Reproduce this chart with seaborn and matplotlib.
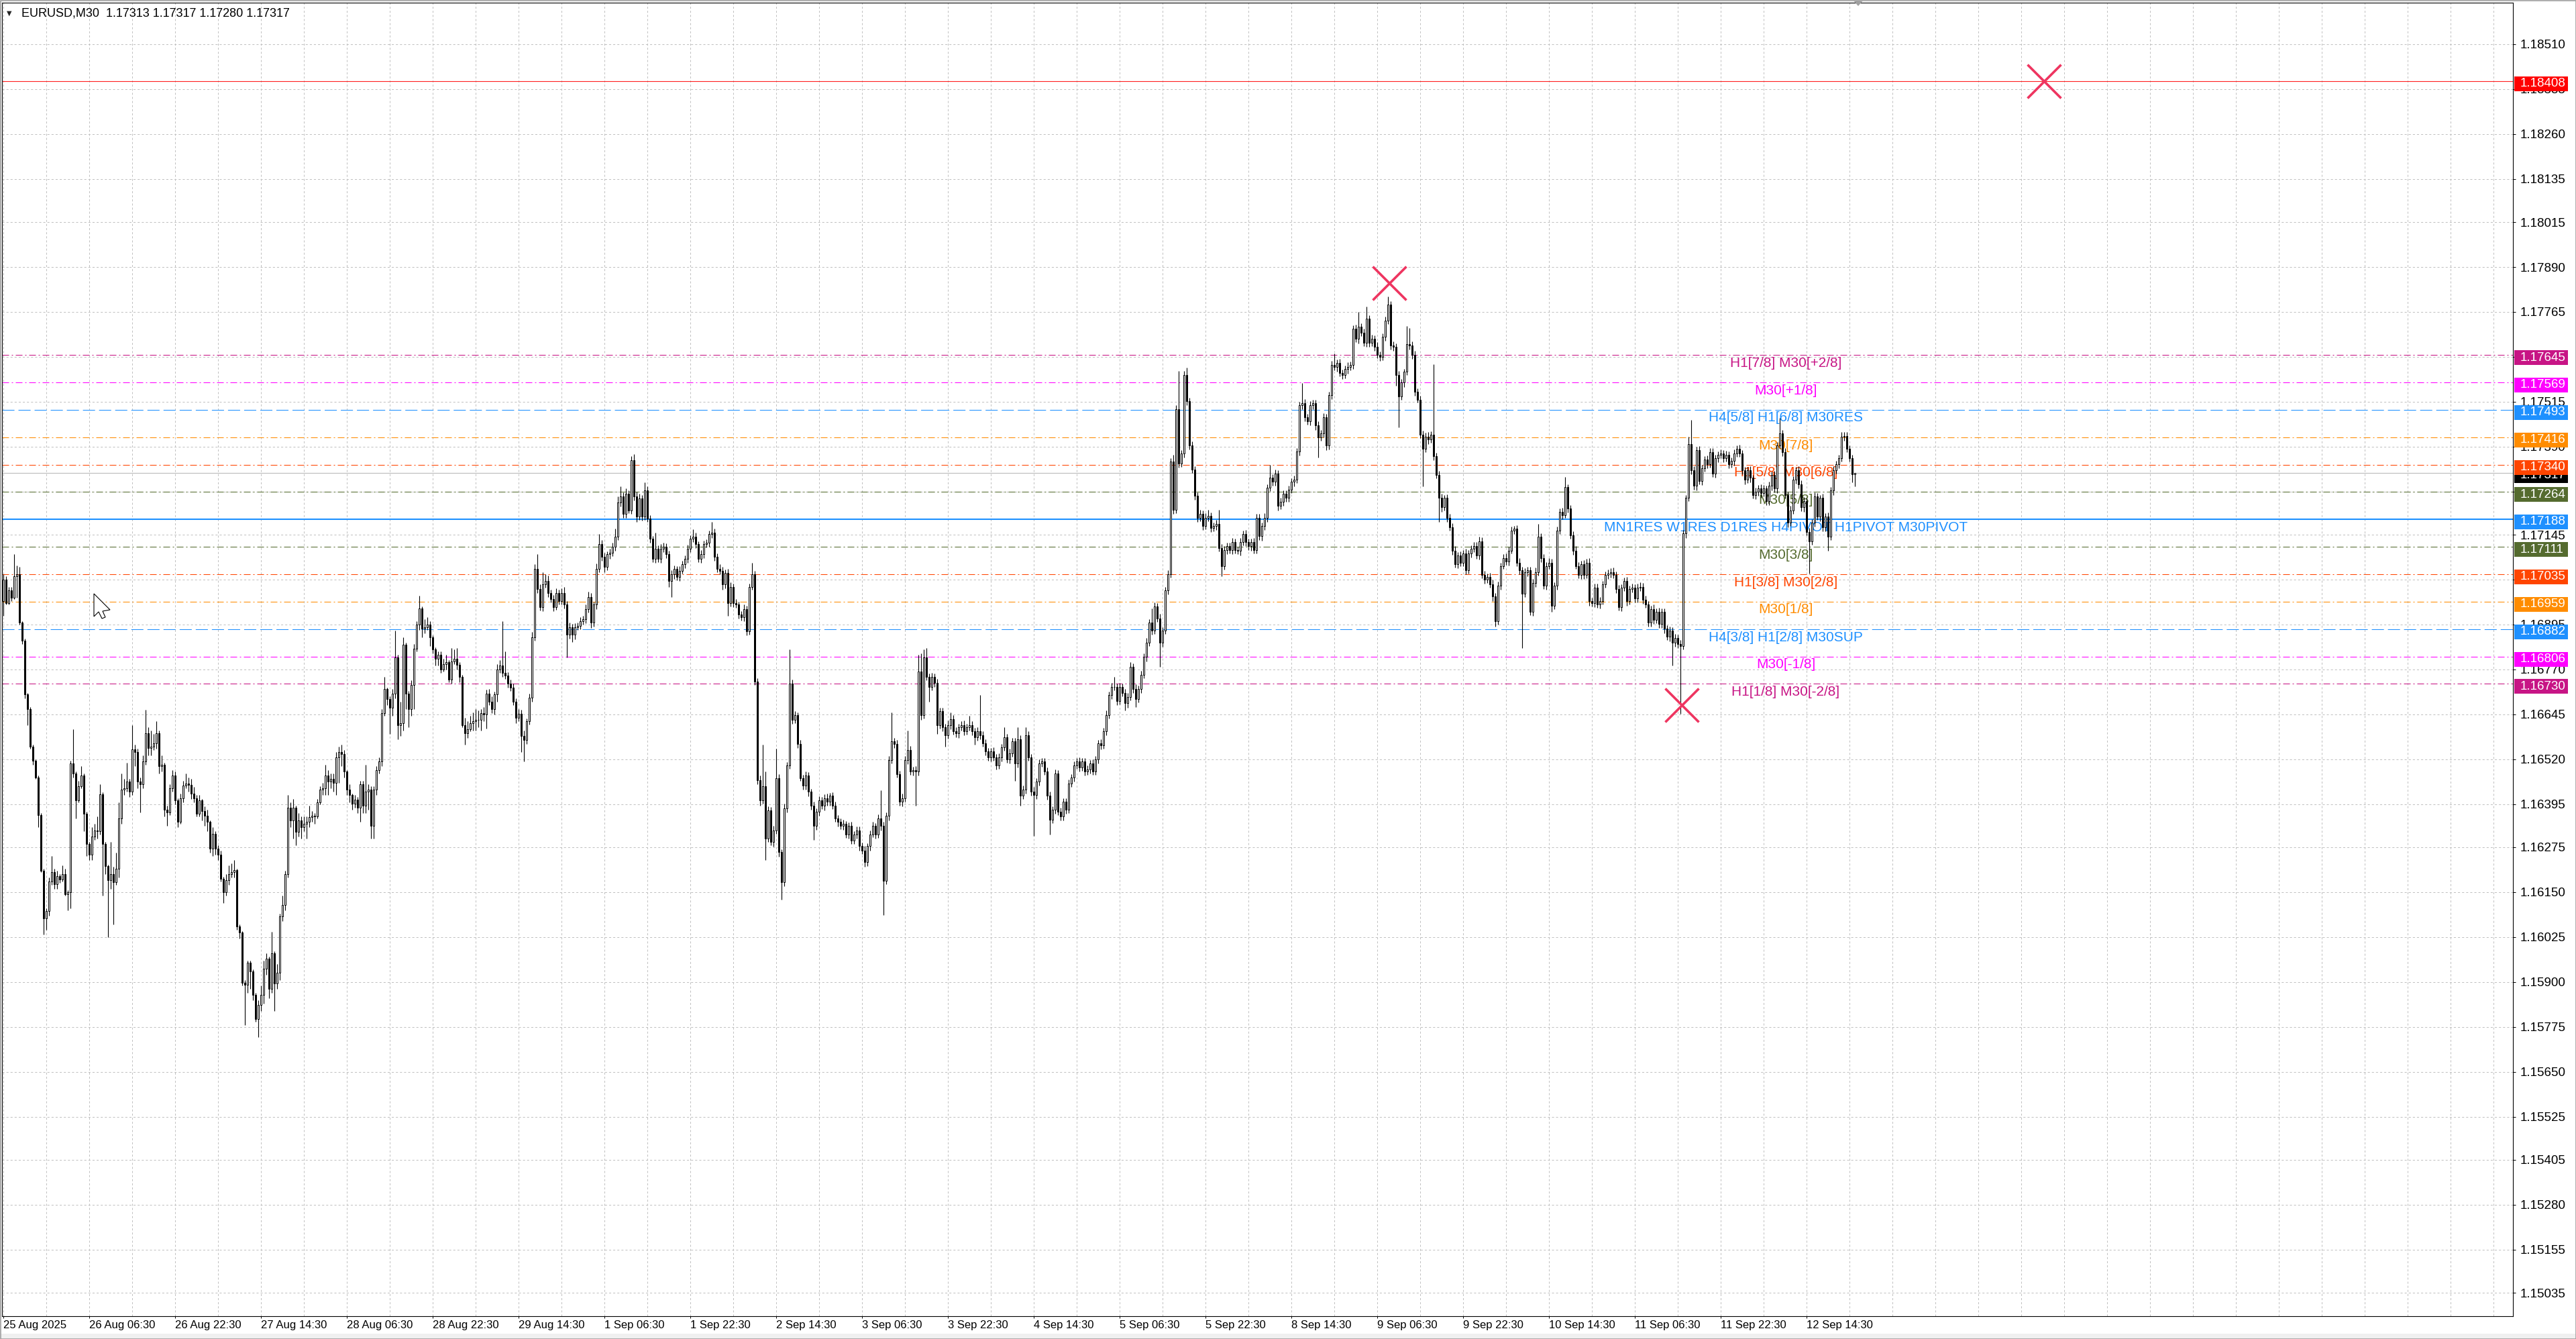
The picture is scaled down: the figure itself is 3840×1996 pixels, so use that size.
import numpy as np
import pandas as pd
import matplotlib
matplotlib.use("Agg")
import matplotlib.pyplot as plt
import seaborn as sns
from matplotlib.patches import Rectangle, Polygon

# ---------------- data (prices in points above 1.10000) ----------------
BASE = 1.10000
first_open = 6960
close_pts = [
    7020,6955,6990,6970,7030,7035,6900,6850,6700,6660,
    6555,6515,6470,6365,6210,6077,6098,6180,6205,6172,
    6195,6185,6200,6145,6150,6508,6480,6405,6445,6475,
    6368,6284,6255,6305,6322,6320,6423,6284,6222,6183,
    6200,6178,6215,6356,6435,6440,6458,6430,6547,6540,
    6458,6450,6513,6592,6552,6555,6565,6592,6500,6505,
    6380,6372,6440,6475,6406,6345,6412,6446,6452,6448,
    6424,6412,6368,6405,6375,6362,6345,6272,6312,6272,
    6255,6188,6150,6183,6200,6205,6211,6054,6037,5897,
    5892,5953,5930,5864,5797,5836,5864,5937,5965,5880,
    5980,5895,5925,6082,6115,6200,6385,6350,6385,6318,
    6350,6330,6340,6345,6358,6362,6360,6400,6435,6440,
    6475,6458,6465,6455,6525,6540,6535,6485,6435,6420,
    6396,6408,6385,6450,6390,6430,6435,6334,6435,6490,
    6513,6648,6715,6687,6664,6703,6804,6614,6620,6838,
    6703,6659,6726,6827,6894,6939,6883,6888,6895,6860,
    6826,6799,6810,6770,6785,6790,6742,6793,6800,6782,
    6750,6614,6592,6603,6620,6625,6630,6630,6648,6645,
    6703,6680,6660,6700,6770,6781,6760,6753,6731,6720,
    6681,6636,6647,6585,6574,6625,6692,6860,7050,6994,
    6944,7006,7017,6983,6966,6944,6983,6961,6983,6950,
    6866,6888,6866,6888,6892,6905,6910,6938,6972,6900,
    6950,7050,7118,7084,7056,7090,7095,7112,7140,7235,
    7252,7202,7258,7213,7353,7252,7196,7246,7196,7269,
    7190,7134,7078,7106,7078,7106,7112,7090,7017,7034,
    7050,7028,7045,7062,7078,7106,7134,7140,7118,7078,
    7090,7118,7123,7146,7151,7084,7050,7045,7006,7039,
    6955,7000,6955,6950,6922,6916,6938,6877,7000,7034,
    6737,6462,6406,6445,6300,6378,6289,6322,6468,6261,
    6177,6384,6502,6731,6630,6642,6563,6468,6446,6474,
    6429,6390,6334,6373,6406,6390,6412,6401,6418,6390,
    6356,6345,6334,6340,6311,6334,6294,6311,6322,6278,
    6266,6233,6278,6311,6334,6311,6356,6334,6182,6362,
    6518,6569,6563,6479,6401,6412,6518,6546,6485,6490,
    6485,6765,6642,6804,6749,6721,6749,6733,6615,6654,
    6609,6587,6615,6632,6598,6592,6609,6615,6598,6609,
    6615,6598,6581,6598,6587,6564,6542,6525,6542,6525,
    6503,6525,6553,6581,6520,6537,6570,6508,6576,6419,
    6436,6587,6525,6430,6420,6458,6508,6514,6486,6419,
    6352,6380,6480,6374,6360,6402,6380,6452,6469,6503,
    6514,6497,6514,6486,6492,6508,6486,6520,6564,6559,
    6598,6643,6699,6721,6721,6682,6721,6705,6676,6693,
    6777,6716,6688,6716,6755,6805,6845,6900,6878,6945,
    6912,6845,6878,6990,7035,7348,7214,7494,7343,7371,
    7589,7516,7393,7326,7253,7192,7203,7169,7192,7197,
    7164,7170,7175,7108,7057,7102,7113,7102,7124,7102,
    7100,7124,7147,7124,7113,7124,7102,7192,7141,7169,
    7192,7276,7304,7292,7315,7225,7236,7259,7248,7270,
    7292,7298,7376,7505,7511,7472,7460,7505,7511,7449,
    7416,7427,7472,7393,7533,7617,7611,7623,7595,7590,
    7606,7612,7617,7718,7690,7724,7707,7679,7746,7679,
    7690,7668,7645,7640,7696,7740,7785,7671,7667,7590,
    7530,7568,7598,7675,7672,7645,7543,7521,7423,7384,
    7418,7410,7423,7363,7311,7247,7221,7247,7191,7166,
    7101,7063,7088,7067,7093,7046,7093,7106,7114,7088,
    7127,7033,7020,7028,7007,6973,6904,7003,7058,7080,
    7071,7101,7157,7161,7067,7046,6981,7041,7046,6930,
    7011,7041,7140,7080,7003,7058,7067,6947,7003,7157,
    7208,7200,7277,7217,7144,7101,7058,7033,7063,7033,
    7067,6960,6955,6998,6951,6960,7007,7033,7037,7041,
    7033,6994,6943,6998,7016,6960,6994,6998,6968,6998,
    7000,6964,6951,6900,6938,6908,6930,6896,6930,6883,
    6861,6878,6844,6857,6840,6835,7148,7247,7397,7324,
    7281,7380,7294,7330,7354,7341,7375,7315,7358,7367,
    7371,7358,7367,7341,7350,7371,7384,7371,7324,7298,
    7324,7303,7255,7264,7273,7260,7273,7238,7281,7311,
    7273,7393,7427,7375,7255,7178,7213,7298,7324,7286,
    7221,7238,7153,7127,7178,7251,7195,7247,7165,7195,
    7140,7268,7324,7341,7358,7418,7420,7384,7358,7313,7317,
]
# wick length above the body / below the body, in points
wick_up = [
    15,10,10,10,60,25,20,5,5,5,
    5,5,5,5,5,5,7,10,45,10,
    15,5,25,15,5,7,95,5,15,25,
    5,5,5,25,18,38,27,5,6,5,
    90,20,45,44,45,25,52,7,67,13,
    10,12,17,66,18,45,25,33,8,25,
    5,10,10,15,10,5,13,14,28,18,
    17,18,8,15,5,13,17,5,18,8,
    8,10,5,17,25,25,29,5,6,5,
    8,7,7,5,6,14,26,23,15,5,
    60,5,25,8,25,10,35,15,25,5,
    20,10,20,15,32,13,8,10,10,15,
    30,15,15,15,15,15,20,10,5,15,
    5,12,7,10,10,75,15,10,10,10,
    12,12,35,5,8,12,74,6,60,22,
    7,7,14,13,11,36,6,22,20,10,
    5,5,10,10,15,20,5,37,25,30,
    8,5,22,22,20,25,30,25,12,17,
    11,12,15,8,15,14,124,60,9,11,
    10,8,12,10,14,9,11,15,12,40,
    12,34,17,15,9,11,12,8,12,17,
    10,12,8,10,9,11,10,12,15,10,
    8,15,28,12,10,9,11,10,22,17,
    28,10,15,10,11,17,12,12,9,21,
    11,10,8,44,10,12,10,9,10,12,
    10,8,12,10,9,11,10,20,10,8,
    12,10,9,11,29,10,8,12,10,9,
    10,12,8,10,9,11,12,10,9,33,
    10,8,12,115,40,10,9,12,82,10,
    8,12,10,95,10,12,9,10,8,11,
    10,9,12,10,11,8,10,12,9,10,
    12,9,10,11,8,10,12,9,10,11,
    10,12,9,10,11,8,10,78,12,10,
    11,81,10,11,9,12,10,54,10,9,
    10,45,50,22,25,10,12,9,11,10,
    10,9,12,18,10,11,9,10,12,10,
    25,10,9,12,101,10,11,9,10,12,
    10,11,9,29,10,12,10,9,34,10,
    11,23,10,9,12,10,11,10,9,12,
    10,9,12,10,11,10,9,12,10,11,
    10,12,9,10,11,10,12,9,10,11,
    10,12,9,11,29,10,12,9,10,11,
    13,10,12,9,11,10,12,10,40,11,
    10,12,9,10,11,10,20,12,106,10,
    11,21,10,12,9,10,11,10,12,18,
    10,9,12,40,10,11,9,10,12,10,
    10,12,9,11,10,9,12,10,11,10,
    12,10,36,9,11,10,12,10,9,11,
    10,12,9,10,56,11,10,12,9,10,
    12,10,11,9,10,12,33,10,11,9,
    10,12,9,10,11,41,10,12,34,10,
    11,10,12,9,10,11,23,10,12,10,
    10,11,9,50,45,10,12,9,10,11,
    10,12,9,197,10,11,12,9,10,11,
    10,12,9,11,10,12,9,10,11,10,
    12,10,11,9,10,12,10,11,9,10,
    12,10,11,9,10,12,10,11,9,10,
    10,12,35,9,11,10,12,10,9,11,
    10,12,28,9,11,10,12,10,9,11,
    10,12,9,11,10,12,10,9,11,10,
    12,10,11,9,10,12,10,11,9,10,
    12,10,11,9,10,12,10,11,9,10,
    10,12,9,11,10,12,10,9,21,68,
    12,10,11,9,10,12,10,11,9,10,
    12,10,11,9,10,12,10,11,9,10,
    10,12,9,11,10,12,10,9,11,10,
    12,10,43,9,11,10,12,10,9,11,
    10,12,9,11,10,12,10,9,11,10,
    12,10,11,9,10,12,10,11,9,10,0,
]
wick_dn = [
    40,5,5,10,5,60,5,10,10,45,
    5,10,5,35,5,45,32,13,10,12,
    12,10,5,5,45,45,10,50,5,5,
    48,34,15,15,10,20,10,144,22,158,
    23,118,8,25,16,15,10,15,10,40,
    18,78,10,8,22,22,10,15,20,15,
    20,37,7,10,11,15,5,12,6,18,
    14,12,8,8,25,27,25,12,22,17,
    15,8,30,10,13,10,15,9,17,7,
    112,22,50,14,7,51,16,24,17,25,
    10,75,15,20,12,15,10,20,50,38,
    13,30,10,40,15,13,20,5,5,15,
    20,38,18,25,35,70,35,15,15,20,
    16,11,15,40,20,20,50,34,34,15,
    10,13,8,17,74,24,13,39,29,20,
    43,49,19,66,7,14,23,13,8,25,
    11,19,19,10,5,15,7,12,8,12,
    15,5,32,12,5,20,25,20,30,20,
    40,10,12,15,20,10,11,9,12,10,
    11,16,10,45,61,12,9,11,10,12,
    10,12,9,11,10,12,9,10,11,10,
    62,10,20,12,9,11,10,12,10,15,
    10,12,9,11,15,10,12,9,11,10,
    12,10,11,9,10,12,15,10,11,10,
    10,12,9,11,10,12,9,10,17,45,
    12,10,11,9,10,12,9,10,11,10,
    12,10,9,11,10,12,9,11,15,10,
    35,10,12,9,11,10,12,12,10,9,
    10,12,16,10,60,11,9,12,10,12,
    47,10,12,9,11,10,12,9,11,10,
    12,10,39,10,11,9,12,10,11,9,
    10,12,9,11,10,12,9,10,11,12,
    10,13,10,12,9,11,10,12,95,10,
    12,10,11,9,10,12,10,11,9,10,
    95,10,12,9,10,41,10,12,25,10,
    12,32,10,11,9,10,12,10,11,9,
    10,12,21,10,11,9,12,10,11,10,
    12,10,11,9,10,12,10,48,11,29,
    10,12,9,11,113,10,12,9,10,11,
    42,10,12,9,11,10,12,9,10,11,
    10,12,9,11,10,12,9,10,11,12,
    10,11,9,12,10,11,9,10,21,12,
    10,12,23,9,11,10,12,10,11,9,
    10,68,12,10,11,9,12,10,11,10,
    12,10,11,9,10,12,10,11,9,10,
    12,10,11,9,27,10,12,9,11,10,
    10,12,9,11,10,12,9,10,11,12,
    10,12,9,11,10,12,9,10,11,12,
    10,12,9,11,10,12,9,10,11,12,
    56,10,12,13,10,11,9,12,10,11,
    10,12,9,11,10,12,9,10,11,12,
    10,12,9,11,10,12,9,10,11,30,
    86,10,12,9,11,10,12,9,10,104,
    10,12,9,11,10,67,12,9,11,10,
    12,10,11,9,10,12,10,11,9,10,
    12,10,11,9,10,12,14,10,11,9,
    10,12,9,11,10,12,151,10,11,9,
    10,12,9,11,10,12,9,17,10,11,
    10,12,9,11,10,12,9,10,11,12,
    10,12,9,11,10,12,9,10,11,12,
    10,12,9,11,10,12,9,10,11,12,
    10,12,9,11,10,12,9,10,11,12,
    10,12,64,10,11,188,10,12,9,11,
    10,12,9,11,10,12,9,10,11,12,
    10,12,9,11,10,12,9,10,11,12,
    10,12,9,11,10,12,9,10,11,12,
    10,12,9,11,10,12,9,10,11,12,
    10,12,9,90,10,11,9,12,10,11,
    39,10,12,9,11,10,12,9,10,23,33,
]

x_tick_bars = list(range(0, 673, 32))
x_tick_labels = ["25 Aug 2025", "26 Aug 06:30", "26 Aug 22:30", "27 Aug 14:30",
                 "28 Aug 06:30", "28 Aug 22:30", "29 Aug 14:30", "1 Sep 06:30",
                 "1 Sep 22:30", "2 Sep 14:30", "3 Sep 06:30", "3 Sep 22:30",
                 "4 Sep 14:30", "5 Sep 06:30", "5 Sep 22:30", "8 Sep 14:30",
                 "9 Sep 06:30", "9 Sep 22:30", "10 Sep 14:30", "11 Sep 06:30",
                 "11 Sep 22:30", "12 Sep 14:30"]
y_ticks = [1.18510, 1.18385, 1.18260, 1.18135, 1.18015, 1.17890, 1.17765, 1.17640,
           1.17515, 1.17390, 1.17265, 1.17145, 1.17020, 1.16895, 1.16770, 1.16645,
           1.16520, 1.16395, 1.16275, 1.16150, 1.16025, 1.15900, 1.15775, 1.15650,
           1.15525, 1.15405, 1.15280, 1.15155, 1.15035]

level_prices = [1.17645, 1.17569, 1.17493, 1.17416, 1.17340, 1.17264, 1.17188,
                1.17111, 1.17035, 1.16959, 1.16882, 1.16806, 1.16730]
level_names = ["H1[7/8] M30[+2/8]", "M30[+1/8]", "H4[5/8] H1[6/8] M30RES", "M30[7/8]",
               "H1[5/8] M30[6/8]", "M30[5/8]",
               "MN1RES W1RES D1RES H4PIVOT H1PIVOT M30PIVOT", "M30[3/8]",
               "H1[3/8] M30[2/8]", "M30[1/8]", "H4[3/8] H1[2/8] M30SUP", "M30[-1/8]",
               "H1[1/8] M30[-2/8]"]
level_colors = ["#C71585", "#FF00FF", "#1E90FF", "#FF8C00", "#FF4500", "#556B2F", "#1E90FF",
                "#556B2F", "#FF4500", "#FF8C00", "#1E90FF", "#FF00FF", "#C71585"]
level_kinds = ["dd", "dd", "dash", "dd", "dd", "dd", "solid", "dd", "dd", "dd", "dash", "dd", "dd"]

red_level = 1.18408
bid_price = 1.17317
header_ohlc = ["1.17313", "1.17317", "1.17280", "1.17317"]

cross_bars = [516.5, 625.6, 760.4]
cross_prices = [1.17845, 1.16671, 1.18408]

# ---------------- style ----------------
sns.set_style("white")
plt.rcParams["font.family"] = ["Liberation Sans", "DejaVu Sans"]
plt.rcParams["lines.scale_dashes"] = False

W, H = 3840, 1996
AX_L, AX_R, AX_T, AX_B = 3, 3746, 4, 1962
PPU = 53554.0          # pixels per price unit
REF_P, REF_Y = 1.18510, 66.0
BAR_X0, BAR_DX = 5.0, 4.0

fig = plt.figure(figsize=(W / 100, H / 100), dpi=100)
fig.patch.set_facecolor("white")
ax = fig.add_axes([AX_L / W, 1 - AX_B / H, (AX_R - AX_L) / W, (AX_B - AX_T) / H])
ax.set_facecolor("white")

# ---------------- candles ----------------
n = min(len(close_pts), len(wick_up), len(wick_dn))
c = BASE + np.array(close_pts[:n]) / 1e5
o = np.concatenate([[BASE + first_open / 1e5], c[:-1]])
hi = np.maximum(o, c) + np.array(wick_up[:n]) / 1e5
lo = np.minimum(o, c) - np.array(wick_dn[:n]) / 1e5
df = pd.DataFrame({"i": np.arange(n), "o": o, "h": hi, "l": lo, "c": c})
bull = df["c"] >= df["o"]

ax.vlines(df["i"], df["l"], df["h"], colors="black", lw=0.8, zorder=4)
ax.bar(df["i"][bull], (df["c"] - df["o"])[bull], bottom=df["o"][bull], width=0.5,
       color="white", edgecolor="black", linewidth=0.72, zorder=5)
ax.bar(df["i"][~bull], (df["o"] - df["c"])[~bull], bottom=df["c"][~bull], width=0.5,
       color="black", edgecolor="black", linewidth=0.72, zorder=5)

# ---------------- level lines ----------------
styles = {"dd": (0, (7.2, 2.9, 1.4, 2.9)), "dash": (0, (13, 4.3)), "solid": "-"}
for p, col, kind in zip(level_prices, level_colors, level_kinds):
    ax.axhline(p, color=col, ls=styles[kind], lw=1.5 if kind == "solid" else 0.75, zorder=2)
ax.axhline(red_level, color="#FF2020", lw=0.8, zorder=2)
ax.axhline(bid_price, color="#C0C0C0", lw=0.9, zorder=2)

LABEL_X = (2662 - BAR_X0) / BAR_DX
for p, col, name in zip(level_prices, level_colors, level_names):
    ax.annotate(name, xy=(LABEL_X, p), xytext=(0, -8.8), textcoords="offset points",
                ha="center", va="center", fontsize=15, color=col, zorder=3)

# ---------------- crosses ----------------
sns.scatterplot(x=cross_bars, y=cross_prices, marker="x", s=36 ** 2, color="#EE3560",
                edgecolor="#EE3560", linewidth=2.6, ax=ax, zorder=8, legend=False)

# ---------------- axes ----------------
ax.set_xlim((AX_L - BAR_X0) / BAR_DX, (AX_R - BAR_X0) / BAR_DX)
ax.set_ylim(REF_P - (AX_B - REF_Y) / PPU, REF_P + (REF_Y - AX_T) / PPU)

ax.set_xticks(x_tick_bars)
ax.set_xticklabels(x_tick_labels)
ax.set_xticks(np.arange(0, 936, 16), minor=True)
plt.setp(ax.get_xticklabels(), ha="left")
ax.yaxis.tick_right()
ax.set_yticks(y_ticks)
ax.set_yticklabels([f"{v:.5f}" for v in y_ticks])

ax.tick_params(axis="x", which="major", length=2.5, width=0.72, pad=2.0, labelsize=12,
               colors="black", bottom=True, direction="out")
ax.tick_params(axis="x", which="minor", length=0)
ax.tick_params(axis="y", which="major", length=3, width=0.72, pad=4.3, labelsize=13.5,
               colors="black", right=True, left=False, direction="out")

grid_kw = dict(color="#C0C0C0", ls=(0, (2.2, 2.2)), lw=0.72)
ax.grid(True, which="both", axis="x", **grid_kw)
ax.grid(True, which="major", axis="y", **grid_kw)
ax.set_axisbelow(True)
for s in ax.spines.values():
    s.set_visible(True)
    s.set_color("black")
    s.set_linewidth(0.8)
ax.set_xlabel("")
ax.set_ylabel("")

# ---------------- right-hand price boxes ----------------
box_prices = [bid_price, red_level] + level_prices
box_colors = ["#000000", "#FF0000"] + level_colors
BOX_X0 = (3748 - AX_L) / (AX_R - AX_L)
BOX_W = 80 / (AX_R - AX_L)
TXT_X = (3757 - AX_L) / (AX_R - AX_L)
BOX_H = 22 / PPU
BOX_SHIFT = 4 / PPU
tr = ax.get_yaxis_transform()
for k, (p, col) in enumerate(zip(box_prices, box_colors)):
    yc = p - BOX_SHIFT
    ax.add_patch(Rectangle((BOX_X0, yc - BOX_H / 2), BOX_W, BOX_H, transform=tr,
                           facecolor=col, edgecolor="none", clip_on=False, zorder=10 + 2 * k))
    ax.text(TXT_X, yc, f"{p:.5f}", transform=tr, color="white", fontsize=13.5,
            va="center", ha="left", clip_on=False, zorder=11 + 2 * k)

# ---------------- header and decorations ----------------
fig.text(10 / W, 1 - 20 / H, "\u25BC", fontsize=7, va="center", ha="left",
         family=["DejaVu Sans"])
fig.text(32 / W, 1 - 20 / H, "EURUSD,M30  " + " ".join(header_ohlc), fontsize=13,
         va="center", ha="left", color="black")

def fpts(pts):
    return [(x / W, 1 - y / H) for x, y in pts]

# mouse cursor
fig.add_artist(Polygon(fpts([(140, 885), (140, 919), (147, 912), (152, 922), (157, 920),
                             (153, 911), (164, 909)]), closed=True, transform=fig.transFigure,
                       facecolor="white", edgecolor="black", lw=0.8, zorder=20))
# chart shift marker
fig.add_artist(Polygon(fpts([(2763, 1), (2777, 1), (2770, 9)]), closed=True,
                       transform=fig.transFigure, facecolor="#A0A0A0", edgecolor="none",
                       zorder=20))
# window frame
fig.add_artist(Rectangle((0, 0), 1, 8 / H, transform=fig.transFigure,
                         facecolor="#F0F0F0", edgecolor="none", zorder=0))
fig.add_artist(Rectangle((0.5 / W, 0.5 / H), 1 - 1 / W, 1 - 1 / H, transform=fig.transFigure,
                         fill=False, edgecolor="#A0A0A0", lw=1.2, zorder=21))

fig.savefig("out.png", dpi=100, facecolor="white")
